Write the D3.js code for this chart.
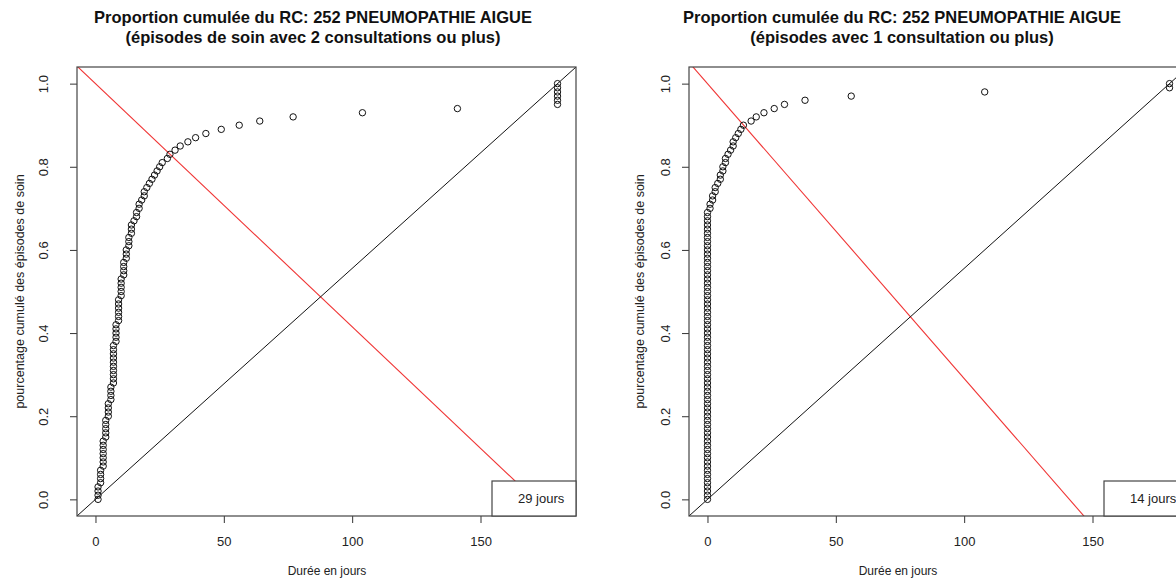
<!DOCTYPE html>
<html>
<head>
<meta charset="utf-8">
<script src="https://cdn.jsdelivr.net/npm/d3@7"></script>
<style>
  html, body { margin: 0; padding: 0; background: #fff; }
  svg { display: block; font-family: "Liberation Sans", Arial, Helvetica, sans-serif; }
</style>
</head>
<body>
<svg id="chart" width="1176" height="584"></svg>
<script>
// Cumulative proportion levels (one point per percentile)
const cumulativeShare = [
  0.00, 0.01, 0.02, 0.03, 0.04, 0.05, 0.06, 0.07, 0.08, 0.09,
  0.10, 0.11, 0.12, 0.13, 0.14, 0.15, 0.16, 0.17, 0.18, 0.19,
  0.20, 0.21, 0.22, 0.23, 0.24, 0.25, 0.26, 0.27, 0.28, 0.29,
  0.30, 0.31, 0.32, 0.33, 0.34, 0.35, 0.36, 0.37, 0.38, 0.39,
  0.40, 0.41, 0.42, 0.43, 0.44, 0.45, 0.46, 0.47, 0.48, 0.49,
  0.50, 0.51, 0.52, 0.53, 0.54, 0.55, 0.56, 0.57, 0.58, 0.59,
  0.60, 0.61, 0.62, 0.63, 0.64, 0.65, 0.66, 0.67, 0.68, 0.69,
  0.70, 0.71, 0.72, 0.73, 0.74, 0.75, 0.76, 0.77, 0.78, 0.79,
  0.80, 0.81, 0.82, 0.83, 0.84, 0.85, 0.86, 0.87, 0.88, 0.89,
  0.90, 0.91, 0.92, 0.93, 0.94, 0.95, 0.96, 0.97, 0.98, 0.99,
  1.00
];

// Episode durations (days) at each cumulative level — episodes with 2+ consultations
const durationsTwoPlus = [
  1, 1, 1, 1, 2, 2, 2, 2, 3, 3,
  3, 3, 3, 3, 3, 4, 4, 4, 4, 4,
  5, 5, 5, 5, 6, 6, 6, 6, 7, 7,
  7, 7, 7, 7, 7, 7, 7, 7, 8, 8,
  8, 8, 8, 9, 9, 9, 9, 9, 9, 10,
  10, 10, 10, 10, 11, 11, 11, 11, 12, 12,
  12, 13, 13, 13, 14, 14, 14, 15, 16, 16,
  17, 17, 18, 19, 19, 20, 21, 22, 23, 24,
  25, 26, 28, 29, 31, 33, 36, 39, 43, 49,
  56, 64, 77, 104, 141, 180, 180, 180, 180, 180,
  180
];

// Episode durations (days) at each cumulative level — episodes with 1+ consultation
const durationsOnePlus = [
  0, 0, 0, 0, 0, 0, 0, 0, 0, 0,
  0, 0, 0, 0, 0, 0, 0, 0, 0, 0,
  0, 0, 0, 0, 0, 0, 0, 0, 0, 0,
  0, 0, 0, 0, 0, 0, 0, 0, 0, 0,
  0, 0, 0, 0, 0, 0, 0, 0, 0, 0,
  0, 0, 0, 0, 0, 0, 0, 0, 0, 0,
  0, 0, 0, 0, 0, 0, 0, 0, 0, 0,
  1, 1, 2, 2, 3, 3, 4, 5, 5, 6,
  6, 7, 7, 8, 9, 10, 10, 11, 12, 13,
  14, 17, 19, 22, 26, 30, 38, 56, 108, 180,
  180
];

const panelTitles = [
  ["Proportion cumulée du RC: 252 PNEUMOPATHIE AIGUE", "(épisodes de soin avec 2 consultations ou plus)"],
  ["Proportion cumulée du RC: 252 PNEUMOPATHIE AIGUE", "(épisodes avec 1 consultation ou plus)"]
];
const xAxisTitle = "Durée en jours";
const yAxisTitle = "pourcentage cumulé des épisodes de soin";
const xTickValues = [0, 50, 100, 150];
const yTickValues = [0.0, 0.2, 0.4, 0.6, 0.8, 1.0];

// Decreasing reference line: share = 1 at day 0, share = 0 at the given day
const decliningLineZeroDay = [171, 141];
// Diagonal reference line: share = 0 at day 0, share = 1 at the max duration
const diagonalMaxDay = 180;
// Day where the curve meets the declining line (legend text)
const crossingLabels = ["29 jours", "14 jours"];

// Plot layout (pixels)
const layout = [
  { left: 77,  titleX: 313, xTitleX: 327, yTitleX: 20,  yTickX: 43 },
  { left: 689, titleX: 902, xTitleX: 898, yTitleX: 640, yTickX: 665 }
];
const plotW = 499, plotTop = 67, plotBottom = 516;

const svg = d3.select("#chart");
const series = [durationsTwoPlus, durationsOnePlus];

layout.forEach((L, i) => {
  const x = d3.scaleLinear().domain([-7.2, 187.2]).range([L.left, L.left + plotW]);
  const y = d3.scaleLinear().domain([-0.04, 1.04]).range([plotBottom, plotTop]);
  const g = svg.append("g");

  const clipId = "clip" + i;
  svg.append("clipPath").attr("id", clipId)
    .append("rect").attr("x", L.left).attr("y", plotTop)
    .attr("width", plotW).attr("height", plotBottom - plotTop);

  // Axes
  const xa = g.append("g").attr("transform", `translate(0,${plotBottom})`)
    .call(d3.axisBottom(x).tickValues(xTickValues).tickSize(7).tickPadding(6));
  xa.select(".domain").remove();
  xa.selectAll("line").attr("stroke", "#333");
  xa.selectAll("text").attr("font-size", 13).attr("fill", "#222")
    .attr("y", 0).attr("dy", null)
    .attr("transform", `translate(0,30)`);

  const ya = g.append("g").attr("transform", `translate(${L.left},0)`)
    .call(d3.axisLeft(y).tickValues(yTickValues).tickFormat(d3.format(".1f")).tickSize(7));
  ya.select(".domain").remove();
  ya.selectAll("line").attr("stroke", "#333");
  ya.selectAll("text").attr("font-size", 13).attr("fill", "#222")
    .attr("x", 0).attr("dy", null)
    .attr("text-anchor", "middle").attr("dominant-baseline", "central")
    .attr("transform", `translate(${L.yTickX - L.left},0) rotate(-90)`);

  // Reference lines
  const lines = g.append("g").attr("clip-path", `url(#${clipId})`);
  const k = decliningLineZeroDay[i];
  lines.append("line")
    .attr("x1", x(-7.2)).attr("y1", y(1 + 7.2 / k))
    .attr("x2", x(187.2)).attr("y2", y(1 - 187.2 / k))
    .attr("stroke", "#f03434").attr("stroke-width", 1.1);
  lines.append("line")
    .attr("x1", x(-7.2)).attr("y1", y(-7.2 / diagonalMaxDay))
    .attr("x2", x(187.2)).attr("y2", y(187.2 / diagonalMaxDay))
    .attr("stroke", "#111").attr("stroke-width", 1);

  // Points
  g.append("g").selectAll("circle")
    .data(series[i].map((d, j) => [d, cumulativeShare[j]]))
    .join("circle")
    .attr("cx", d => x(d[0])).attr("cy", d => y(d[1]))
    .attr("r", 3.2).attr("fill", "none")
    .attr("stroke", "#111").attr("stroke-width", 1);

  // Plot box
  g.append("rect").attr("x", L.left).attr("y", plotTop)
    .attr("width", plotW).attr("height", plotBottom - plotTop)
    .attr("fill", "none").attr("stroke", "#444").attr("stroke-width", 1.2);

  // Legend box (bottom right)
  const lgW = 84, lgH = 35;
  const lgX = L.left + plotW - lgW, lgY = plotBottom - lgH;
  g.append("rect").attr("x", lgX).attr("y", lgY).attr("width", lgW).attr("height", lgH)
    .attr("fill", "#fff").attr("stroke", "#444").attr("stroke-width", 1.2);
  g.append("text").attr("x", lgX + 26).attr("y", lgY + 22)
    .attr("font-size", 13).attr("fill", "#222").text(crossingLabels[i]);

  // Titles
  const t = g.append("text").attr("text-anchor", "middle")
    .attr("font-size", 16.5).attr("font-weight", "bold").attr("fill", "#111");
  t.append("tspan").attr("x", L.titleX).attr("y", 23).text(panelTitles[i][0]);
  t.append("tspan").attr("x", L.titleX).attr("y", 43).text(panelTitles[i][1]);

  g.append("text").attr("x", L.xTitleX).attr("y", 575)
    .attr("text-anchor", "middle").attr("font-size", 12).attr("fill", "#222")
    .text(xAxisTitle);

  g.append("text").attr("text-anchor", "middle").attr("font-size", 12.5)
    .attr("fill", "#222").attr("dominant-baseline", "central")
    .attr("transform", `translate(${L.yTitleX},${(plotTop + plotBottom) / 2}) rotate(-90)`)
    .text(yAxisTitle);
});
</script>
</body>
</html>
